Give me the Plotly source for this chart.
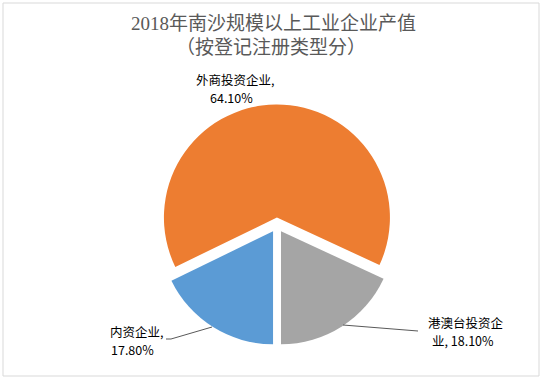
import plotly.graph_objects as go

W, H = 547, 381

# ---- data ----
categories = ["内资企业", "外商投资企业", "港澳台投资企业"]
shares = [17.80, 64.10, 18.10]
colors = ["#5B9BD5", "#ED7D31", "#A5A5A5"]
title_lines = ["2018年南沙规模以上工业企业产值", "（按登记注册类型分）"]

def px(x):
    return x / W

def py(y):
    return 1 - y / H

pull = 0.066
R = 113
cx, cy = 277, 225
half = R * (1 + pull)

fig = go.Figure(go.Pie(
    labels=categories,
    values=shares,
    marker=dict(colors=colors, line=dict(width=0)),
    sort=False,
    direction="clockwise",
    rotation=180,
    pull=[pull] * len(categories),
    textinfo="none",
    hoverinfo="label+percent",
    domain=dict(x=[px(cx - half), px(cx + half)], y=[py(cy + half), py(cy - half)]),
    showlegend=False,
))

label_font = dict(family="Noto Sans CJK SC, SimSun, sans-serif", size=12.5, color="#000000")
title_font = dict(family="Liberation Serif, Noto Sans CJK SC, serif", size=19, color="#595959")

def pct(i):
    return f"{shares[i]:.2f}%"

def ann(text, x, y, font):
    return dict(text=text, x=px(x), y=py(y), xref="paper", yref="paper",
                xanchor="center", yanchor="middle", showarrow=False, font=font)

annotations = [
    ann(title_lines[0], 273.5, 23, title_font),
    ann(title_lines[1], 271, 47, title_font),
    # 外商投资企业
    ann(categories[1] + ",", 235, 79, label_font),
    ann(pct(1), 231, 97, label_font),
    # 内资企业
    ann(categories[0] + ",", 136, 331, label_font),
    ann(pct(0), 132, 349.5, label_font),
    # 港澳台投资企业 (wrapped)
    ann(categories[2][:6], 466, 322, label_font),
    ann(categories[2][6:] + ", " + pct(2), 463, 340.5, label_font),
]

shapes = [
    dict(type="rect", xref="paper", yref="paper",
         x0=px(3), x1=px(539), y0=py(376), y1=py(3),
         line=dict(color="#D9D9D9", width=1)),
    dict(type="path", xref="paper", yref="paper",
         path=f"M {px(166)} {py(339)} L {px(171)} {py(339)} L {px(212)} {py(327)}",
         line=dict(color="#595959", width=1)),
    dict(type="path", xref="paper", yref="paper",
         path=f"M {px(343)} {py(325)} L {px(418)} {py(331)}",
         line=dict(color="#595959", width=1)),
]

fig.update_layout(
    width=W, height=H,
    margin=dict(l=0, r=0, t=0, b=0),
    paper_bgcolor="#FFFFFF",
    plot_bgcolor="#FFFFFF",
    annotations=annotations,
    shapes=shapes,
)

fig.write_html("out.html", config={"displayModeBar": False},
               post_script="document.body.style.margin='0';")
